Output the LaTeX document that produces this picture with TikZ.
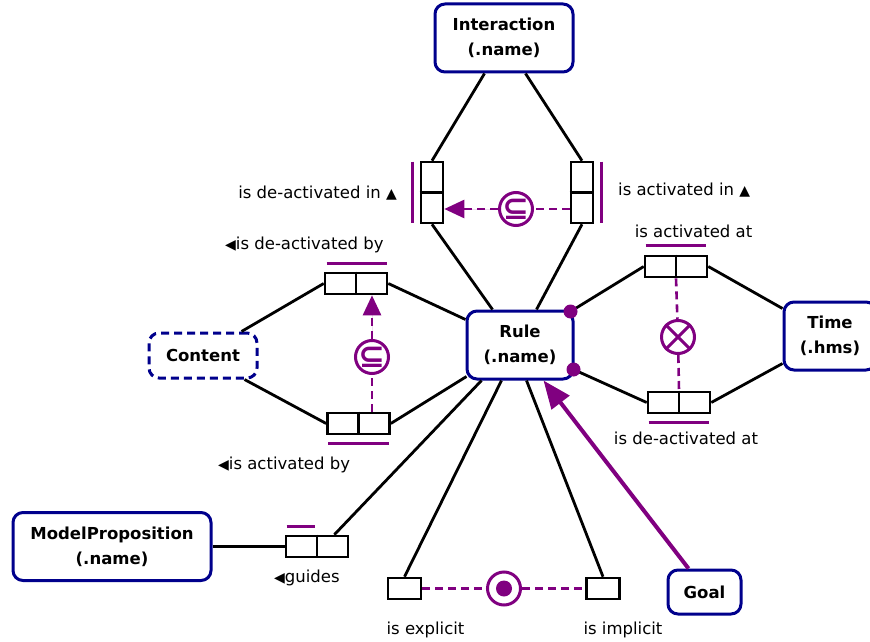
\documentclass[tikz,border=0pt]{standalone}
\usepackage{fontspec}
\setmainfont{DejaVu Sans}
\usetikzlibrary{arrows.meta,calc}
\definecolor{navy}{RGB}{0,0,140}
\definecolor{purp}{RGB}{128,0,128}
\newcommand\mysmalltri[1]{{\fontsize{14}{14}\selectfont #1}}
\begin{document}
\begin{tikzpicture}[x=1pt,y=-1pt,
  ent/.style={draw=navy,line width=3pt,rounded corners=10pt,fill=white,
    font=\bfseries\fontsize{16.5}{25}\selectfont,align=center,inner sep=0pt},
  rolebox/.style={draw=black,line width=2.6pt,fill=white,inner sep=0pt,
    minimum width=62pt,minimum height=21pt},
  vrolebox/.style={draw=black,line width=2.6pt,fill=white,inner sep=0pt,
    minimum width=22pt,minimum height=61pt},
  srolebox/.style={draw=black,line width=2.6pt,fill=white,inner sep=0pt,
    minimum width=33pt,minimum height=21pt},
  conn/.style={draw=black,line width=2.8pt},
  divider/.style={draw=black,line width=2.4pt},
  pbar/.style={draw=purp,line width=2.8pt},
  pdash/.style={draw=purp,line width=2.6pt,dash pattern=on 8pt off 5pt},
  ptip/.style={-{Triangle[length=20pt,width=18pt]}},
  pcirc/.style={circle,draw=purp,line width=3pt,fill=white,minimum size=33pt,inner sep=0pt},
  psym/.style={inner sep=0pt,text=purp,font=\bfseries\fontsize{32}{32}\selectfont},
  lab/.style={inner sep=0pt,font=\fontsize{16.5}{20}\selectfont}
]
\fill[white] (0,0) rectangle (870,642);
\useasboundingbox (0,0) rectangle (870,642);

% entity nodes
\node[ent,minimum width=138pt,minimum height=68pt] (inter) at (504,38) {Interaction\\(.name)};
\node[ent,minimum width=106pt,minimum height=68pt] (rule) at (520,345) {Rule\\(.name)};
\node[ent,dash pattern=on 8pt off 5pt,minimum width=108pt,minimum height=45pt] (content) at (203,355.5) {Content};
\node[ent,minimum width=92pt,minimum height=68pt] (time) at (830,336) {Time\\(.hms)};
\node[ent,minimum width=198pt,minimum height=68pt] (mp) at (112,546.5) {ModelProposition\\(.name)};
\node[ent,minimum width=73pt,minimum height=44pt] (goal) at (704.5,592) {Goal};

% role boxes
\node[vrolebox] (ilr) at (432,192.5) {};
\node[vrolebox] (irr) at (582,192.5) {};
\node[rolebox] (ctop) at (356,283.5) {};
\node[rolebox] (cbot) at (358.5,423.5) {};
\node[rolebox] (ttop) at (676,266.5) {};
\node[rolebox] (tbot) at (679,402.5) {};
\node[rolebox] (grole) at (317,546.5) {};
\node[srolebox] (expl) at (404.5,588.5) {};
\node[srolebox] (impl) at (603,588.5) {};

% dividers
\draw[divider] (ilr.west) -- (ilr.east);
\draw[divider] (irr.west) -- (irr.east);
\foreach \r in {ctop,cbot,ttop,tbot,grole} \draw[divider] (\r.north) -- (\r.south);

% connectors
\draw[conn] ([xshift=51pt]inter.south west) -- (ilr.north);
\draw[conn] ([xshift=92pt]inter.south west) -- (irr.north);
\draw[conn] (ilr.south) -- ([xshift=27pt]rule.north west);
\draw[conn] (irr.south) -- ([xshift=71pt]rule.north west);
\draw[conn] ([xshift=-17pt]content.north east) -- (ctop.west);
\draw[conn] ([xshift=-14pt]content.south east) -- (cbot.west);
\draw[conn] (ctop.east) -- ([yshift=-10pt]rule.north west);
\draw[conn] (cbot.east) -- ([xshift=1pt,yshift=4pt]rule.south west);
\coordinate (dot1) at ([xshift=-4pt,yshift=-2pt]rule.north east);
\coordinate (dot2) at ([xshift=-1pt,yshift=11pt]rule.south east);
\draw[conn] (dot1) -- (ttop.west);
\draw[conn] (ttop.east) -- ([yshift=-8pt]time.north west);
\draw[conn] (dot2) -- (tbot.west);
\draw[conn] (tbot.east) -- ([yshift=8pt]time.south west);
\draw[conn] (mp.east) -- (grole.west);
\draw[conn] ([xshift=-15pt]grole.north east) -- ([xshift=16pt]rule.south west);
\draw[conn] (expl.north) -- ([xshift=36pt]rule.south west);
\draw[conn] (impl.north) -- ([xshift=61pt]rule.south west);
\fill[purp] (dot1) circle (7pt);
\fill[purp] (dot2) circle (7pt);

% goal arrow
\draw[draw=purp,fill=purp,line width=4pt,-{Triangle[length=28pt,width=22pt]}]
  ([xshift=22pt]goal.north west) -- ([xshift=78pt]rule.south west);

% purple bars
\draw[pbar] ([xshift=-7pt,yshift=-1pt]ilr.north west) -- ([xshift=-7pt,yshift=1pt]ilr.south west);
\draw[pbar] ([xshift=7pt,yshift=-1pt]irr.north east) -- ([xshift=7pt,yshift=1pt]irr.south east);
\draw[pbar] ([xshift=3pt,yshift=8pt]ctop.north west) -- ([xshift=-1pt,yshift=8pt]ctop.north east);
\draw[pbar] ([xshift=2pt,yshift=-8pt]cbot.south west) -- ([xshift=-2pt,yshift=-8pt]cbot.south east);
\draw[pbar] ([xshift=2pt,yshift=9pt]ttop.north west) -- ([xshift=-2pt,yshift=9pt]ttop.north east);
\draw[pbar] ([xshift=2pt,yshift=-8pt]tbot.south west) -- ([xshift=-2pt,yshift=-8pt]tbot.south east);
\draw[pbar] ([xshift=2pt,yshift=8pt]grole.north west) -- ([xshift=-2pt,yshift=8pt]grole.north);

% constraint circles
\node[pcirc] (sub1) at (516,209) {};
\node[psym] (sub1t) at (sub1) {⊆};
\draw[pdash] (irr.west |- sub1) -- (sub1);
\draw[pdash,fill=purp,ptip] (sub1) -- (ilr.east |- sub1);

\node[pcirc] (sub2) at (372,357) {};
\node[psym] (sub2t) at (sub2) {⊆};
\draw[pdash] (cbot.north -| sub2) -- (sub2);
\draw[pdash,fill=purp,ptip] (sub2) -- (ctop.south -| sub2);

\node[pcirc] (xor) at (678,337) {};
\draw[pdash] (ttop.south) -- (xor);
\draw[pdash] (xor) -- (tbot.north);
\draw[purp,line width=3pt] (xor.north west) -- (xor.south east);
\draw[purp,line width=3pt] (xor.north east) -- (xor.south west);

\node[pcirc] (dotc) at (504,588.5) {};
\draw[pdash] (expl) -- (dotc);
\draw[pdash] (dotc) -- (impl);
\fill[purp] (dotc) circle (8pt);

% labels
\node[lab,anchor=east] (l1) at (397,193) {is de-activated in \mysmalltri{▲}};
\node[lab,anchor=west] (l2) at (225,245) {\mysmalltri{◀}is de-activated by};
\node[lab,anchor=west] (l3) at (618,190) {is activated in \mysmalltri{▲}};
\node[lab] (l4) at (693.5,231) {is activated at};
\node[lab,anchor=west] (l5) at (218,465) {\mysmalltri{◀}is activated by};
\node[lab] (l6) at (686,438) {is de-activated at};
\node[lab] (l7) at (425.5,630) {is explicit};
\node[lab] (l8) at (623,630) {is implicit};
\node[lab,anchor=west] (l9) at (274,578) {\mysmalltri{◀}guides};
\end{tikzpicture}
\end{document}
